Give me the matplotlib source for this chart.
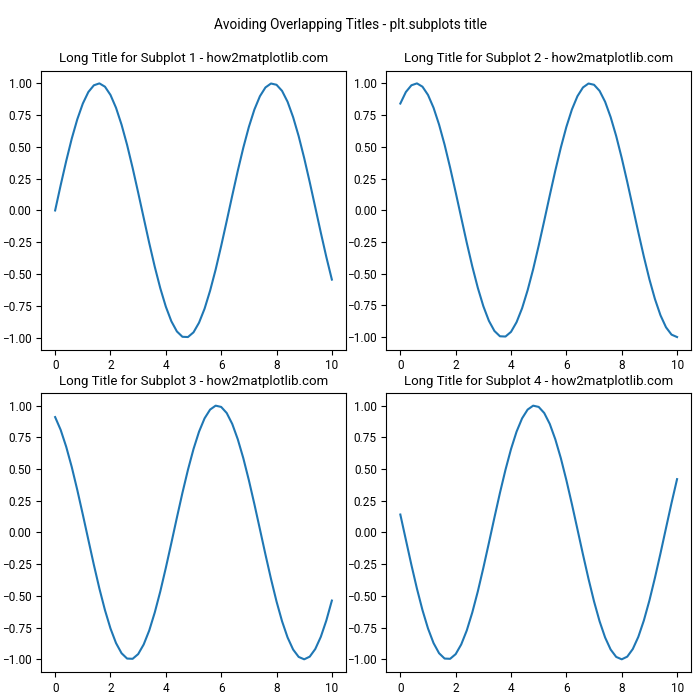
import matplotlib
matplotlib.use('Agg')
import matplotlib.pyplot as plt

plt.rcParams['font.family'] = ['Roboto', 'DejaVu Sans']
plt.rcParams['xtick.labelsize'] = 8.5
plt.rcParams['ytick.labelsize'] = 8.5

# x positions read along the axis (0 to 10, step 0.2)
x_vals = [i * 0.2 for i in range(51)]

# curve values
series_1 = [0.000, 0.199, 0.389, 0.565, 0.717, 0.841, 0.932, 0.985, 1.000, 0.974,
            0.909, 0.808, 0.675, 0.516, 0.335, 0.141, -0.058, -0.256, -0.443, -0.612,
            -0.757, -0.872, -0.952, -0.994, -0.996, -0.959, -0.883, -0.773, -0.631, -0.465,
            -0.279, -0.083, 0.117, 0.312, 0.494, 0.657, 0.794, 0.899, 0.968, 0.999,
            0.989, 0.941, 0.855, 0.734, 0.585, 0.412, 0.223, 0.025, -0.174, -0.366,
            -0.544]
series_2 = [0.841, 0.932, 0.985, 1.000, 0.974,
            0.909, 0.808, 0.675, 0.516, 0.335, 0.141, -0.058, -0.256, -0.443, -0.612,
            -0.757, -0.872, -0.952, -0.994, -0.996, -0.959, -0.883, -0.773, -0.631, -0.465,
            -0.279, -0.083, 0.117, 0.312, 0.494, 0.657, 0.794, 0.899, 0.968, 0.999,
            0.989, 0.941, 0.855, 0.734, 0.585, 0.412, 0.223, 0.025, -0.174, -0.366,
            -0.544, -0.700, -0.828, -0.923, -0.981, -1.000]
series_3 = [0.909, 0.808, 0.675, 0.516, 0.335, 0.141, -0.058, -0.256, -0.443, -0.612,
            -0.757, -0.872, -0.952, -0.994, -0.996, -0.959, -0.883, -0.773, -0.631, -0.465,
            -0.279, -0.083, 0.117, 0.312, 0.494, 0.657, 0.794, 0.899, 0.968, 0.999,
            0.989, 0.941, 0.855, 0.734, 0.585, 0.412, 0.223, 0.025, -0.174, -0.366,
            -0.544, -0.700, -0.828, -0.923, -0.981, -1.000, -0.979, -0.919, -0.823, -0.694,
            -0.537]
series_4 = [0.141, -0.058, -0.256, -0.443, -0.612,
            -0.757, -0.872, -0.952, -0.994, -0.996, -0.959, -0.883, -0.773, -0.631, -0.465,
            -0.279, -0.083, 0.117, 0.312, 0.494, 0.657, 0.794, 0.899, 0.968, 0.999,
            0.989, 0.941, 0.855, 0.734, 0.585, 0.412, 0.223, 0.025, -0.174, -0.366,
            -0.544, -0.700, -0.828, -0.923, -0.981, -1.000, -0.979, -0.919, -0.823, -0.694,
            -0.537, -0.358, -0.166, 0.034, 0.232, 0.420]

titles = ['Long Title for Subplot 1 - how2matplotlib.com',
          'Long Title for Subplot 2 - how2matplotlib.com',
          'Long Title for Subplot 3 - how2matplotlib.com',
          'Long Title for Subplot 4 - how2matplotlib.com']

fig, axs = plt.subplots(2, 2, figsize=(7, 7), dpi=100)
fig.suptitle('Avoiding Overlapping Titles - plt.subplots title', fontsize=9.8, y=0.975)

for ax, ys, title in zip(axs.flat, [series_1, series_2, series_3, series_4], titles):
    ax.plot(x_vals, ys)
    ax.set_title(title, fontsize=9.5)

plt.subplots_adjust(left=0.059, right=0.987, top=0.899, bottom=0.04, wspace=0.134, hspace=0.155)
plt.savefig('out.png')
